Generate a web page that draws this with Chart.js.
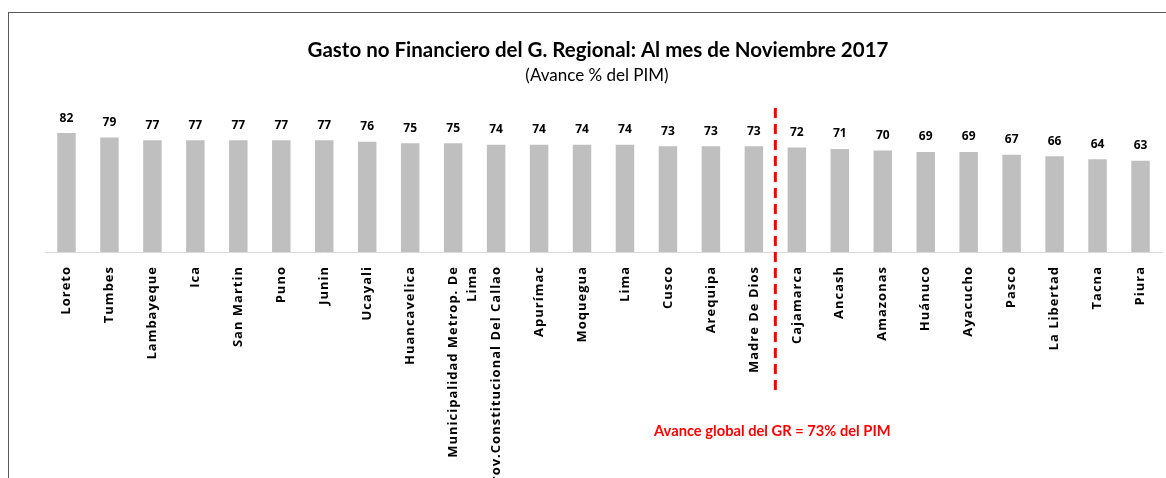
<!DOCTYPE html>
<html>
<head>
<meta charset="utf-8">
<script src="https://cdn.jsdelivr.net/npm/chart.js@4"></script>
<style>
  html, body { margin: 0; padding: 0; background: #fff; overflow: hidden; }
  #frame { position: absolute; left: 8px; top: 12px; width: 1160px; height: 470px;
           border-top: 1px solid #595959; border-left: 1px solid #595959; }
  #wrap { position: absolute; left: 0; top: 0; width: 1166px; height: 478px; }
</style>
</head>
<body>
<div id="frame"></div>
<div id="wrap"><canvas id="chart"></canvas></div>
<script>
const regiones = ['Loreto', 'Tumbes', 'Lambayeque', 'Ica', 'San Martin', 'Puno', 'Junin', 'Ucayali',
  'Huancavelica', ['Municipalidad Metrop. De', 'Lima'], 'Prov.Constitucional Del Callao', 'Apurímac',
  'Moquegua', 'Lima', 'Cusco', 'Arequipa', 'Madre De Dios', 'Cajamarca', 'Ancash', 'Amazonas',
  'Huánuco', 'Ayacucho', 'Pasco', 'La Libertad', 'Tacna', 'Piura'];
const avance = [82, 79, 77, 77, 77, 77, 77, 76, 75, 75, 74, 74, 74, 74, 73, 73, 73, 72, 71, 70, 69, 69, 67, 66, 64, 63];
const avanceGlobal = 73;
const titulo = 'Gasto no Financiero del G. Regional: Al mes de Noviembre 2017';
const subtitulo = '(Avance % del PIM)';
const nota = 'Avance global del GR = ' + avanceGlobal + '% del PIM';

// la línea va entre el último con avance >= global y el primero por debajo
let corte = avance.findIndex(v => v < avanceGlobal);

const extras = {
  id: 'extras',
  beforeDraw(chart) {
    // las etiquetas del eje van algo espaciadas, como en Excel
    chart.ctx.letterSpacing = '1px';
  },
  afterDatasetsDraw(chart) {
    const ctx = chart.ctx;
    const x = chart.scales.x;
    const meta = chart.getDatasetMeta(0);

    ctx.save();
    ctx.letterSpacing = '0px';
    // valores encima de las barras
    ctx.fillStyle = '#000';
    ctx.font = 'bold 12px "Open Sans"';
    ctx.textAlign = 'center';
    ctx.textBaseline = 'bottom';
    meta.data.forEach((bar, i) => {
      ctx.fillText(avance[i], bar.x, bar.y - 9);
    });

    // títulos
    ctx.textBaseline = 'middle';
    ctx.font = 'bold 20.5px Lato';
    ctx.fillText(titulo, 598, 50);
    ctx.font = '17px Lato';
    ctx.fillText(subtitulo, 597, 76);

    // línea discontinua roja
    const lx = (x.getPixelForValue(corte - 1) + x.getPixelForValue(corte)) / 2;
    ctx.strokeStyle = '#ff0000';
    ctx.lineWidth = 3;
    ctx.setLineDash([10, 6]);
    ctx.beginPath();
    ctx.moveTo(lx, 108);
    ctx.lineTo(lx, 393);
    ctx.stroke();

    ctx.fillStyle = '#ff0000';
    ctx.font = 'bold 14.7px Lato';
    ctx.fillText(nota, lx - 3, 431);
    ctx.restore();
  }
};

new Chart(document.getElementById('chart'), {
  type: 'bar',
  data: {
    labels: regiones,
    datasets: [{
      data: avance,
      backgroundColor: '#bfbfbf',
      borderWidth: 0,
      barPercentage: 0.43,
      categoryPercentage: 1
    }]
  },
  options: {
    responsive: true,
    maintainAspectRatio: false,
    animation: false,
    layout: { padding: { left: 45, right: 4, top: 107, bottom: 0 } },
    plugins: {
      legend: { display: false },
      tooltip: { enabled: false }
    },
    scales: {
      y: { display: false, min: 0, max: 100 },
      x: {
        grid: { display: false, drawTicks: false },
        border: { display: true, color: '#d9d9d9', width: 1 },
        ticks: {
          autoSkip: false,
          minRotation: 90,
          maxRotation: 90,
          padding: 14,
          color: '#000',
          font: { family: 'Open Sans', size: 13, weight: 'bold', lineHeight: 1.5 }
        },
        afterFit(scale) {
          scale.height = 226;
          scale.paddingLeft = 0;
          scale.paddingRight = 0;
        }
      }
    }
  },
  plugins: [extras]
});
</script>
</body>
</html>
